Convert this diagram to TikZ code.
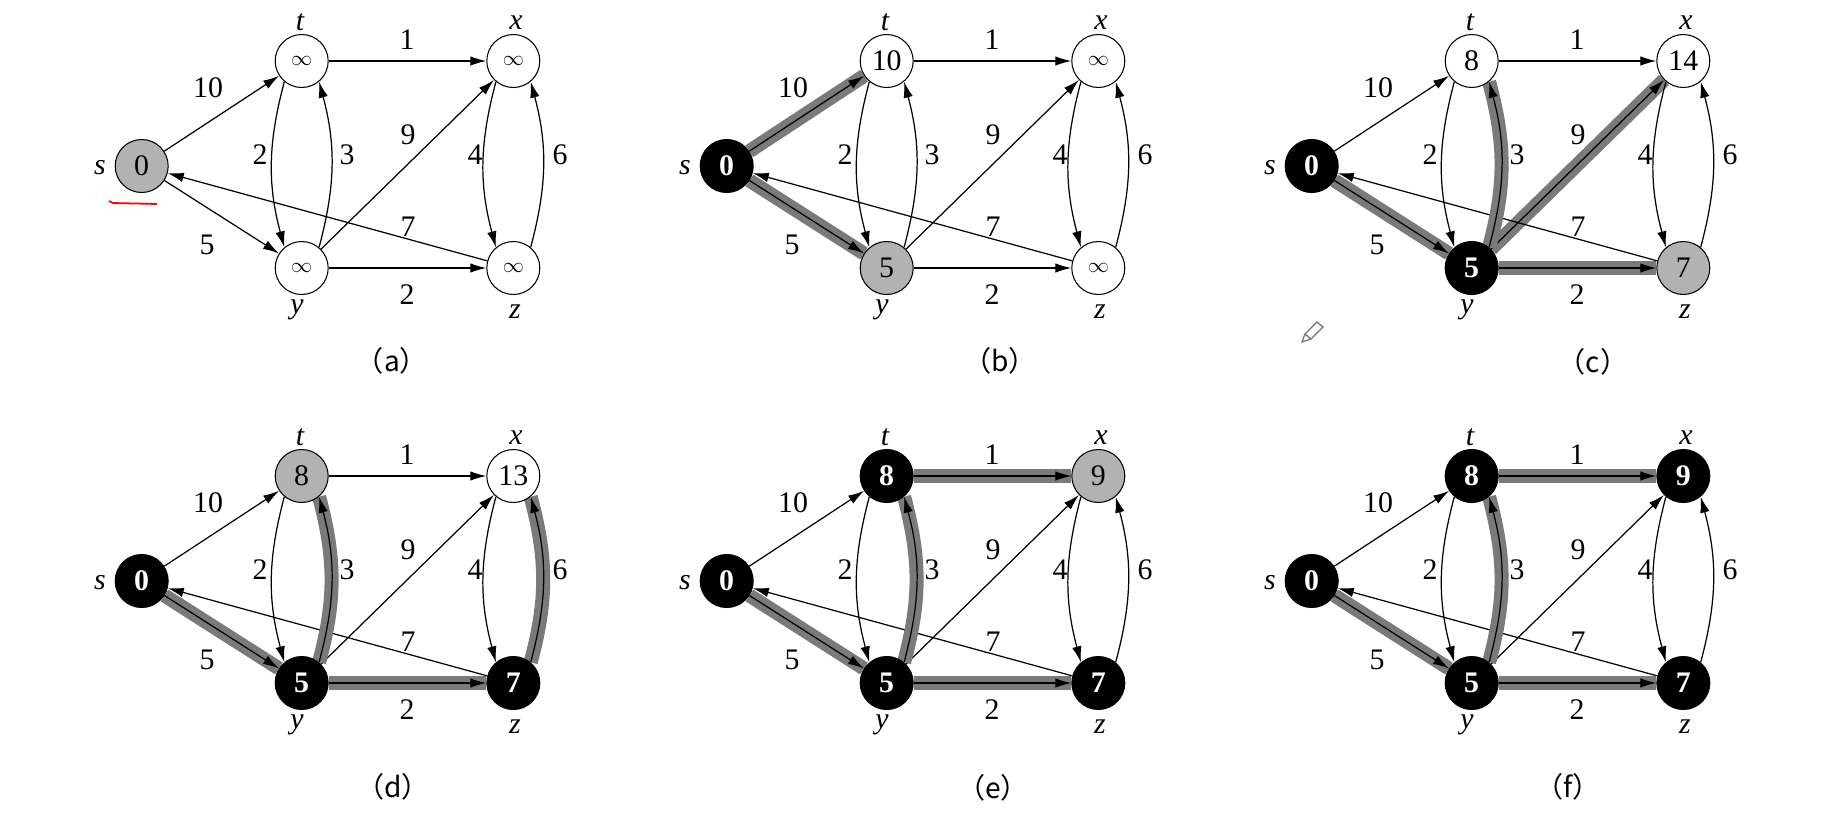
\documentclass[tikz,border=0pt]{standalone}
\usepackage{fontspec}
\setmainfont{Liberation Serif}
\newfontfamily\cjk{Noto Sans CJK SC}
\usetikzlibrary{arrows.meta,backgrounds}
\tikzset{
  x=0.02cm, y=0.02cm,
  vtx/.style={circle, draw=black, line width=0.6pt, minimum size=1.06cm, inner sep=0pt, font=\fontsize{17}{17}\selectfont},
  wht/.style={fill=white},
  gry/.style={fill=black!30},
  blk/.style={fill=black, text=white, font=\fontsize{17}{17}\selectfont\bfseries},
  lbl/.style={font=\fontsize{17}{17}\selectfont\itshape, inner sep=0pt},
  wlbl/.style={font=\fontsize{17}{17}\selectfont, inner sep=0pt},
  captxt/.style={font=\fontsize{16}{16}\selectfont, inner sep=0pt},
  arc/.style={line width=0.7pt, -{Latex[length=3.2mm,width=1.9mm]}},
  hot/.style={preaction={draw, line width=8pt, black!52, -}},
  nS/.style=wht, nT/.style=wht, nX/.style=wht, nY/.style=wht, nZ/.style=wht,
  eST/.style={}, eSY/.style={}, eTX/.style={}, eYZ/.style={}, eYX/.style={},
  eZS/.style={}, eTY/.style={}, eYT/.style={}, eXZ/.style={}, eZX/.style={}
}
\newcommand{\infsym}{{\fontsize{12}{12}\selectfont$\infty$}}
\newcommand{\dpanel}[9]{%
  \node[vtx,nS] (#1s) at (141.7,-166) {#2};
  \node[vtx,nT] (#1t) at (301.7,-61) {#3};
  \node[vtx,nX] (#1x) at (513.3,-61) {#4};
  \node[vtx,nY] (#1y) at (301.7,-268) {#5};
  \node[vtx,nZ] (#1z) at (513.3,-268) {#6};
  \node[lbl] (#1ls) at (100,-168) {s};
  \node[lbl] (#1lt) at (300,-22) {t};
  \node[lbl] (#1lx) at (516,-23) {x};
  \node[lbl] (#1ly) at (297,-310) {y};
  \node[lbl] (#1lz) at (515,-312) {z};
  \begin{scope}[on background layer]
    \draw[arc,eST] (#1s) -- (#1t);
    \draw[arc,eSY] (#1s) -- (#1y);
    \draw[arc,eTX] (#1t) -- (#1x);
    \draw[arc,eYZ] (#1y) -- (#1z);
    \draw[arc,eYX] (#1y) -- (#1x);
    \draw[arc,eZS] (#1z) -- (#1s);
    \draw[arc,eTY] (#1t.-130) to[bend right=15] (#1y.130);
    \draw[arc,eYT] (#1y.50) to[bend right=15] (#1t.-50);
    \draw[arc,eXZ] (#1x.-130) to[bend right=15] (#1z.130);
    \draw[arc,eZX] (#1z.50) to[bend right=15] (#1x.-50);
  \end{scope}
  \node[wlbl] (#1w1) at (407,-40) {1};
  \node[wlbl] (#1w10) at (208,-88) {10};
  \node[wlbl] (#1w2a) at (260,-155) {2};
  \node[wlbl] (#1w3) at (347,-155) {3};
  \node[wlbl] (#1w9) at (408,-135) {9};
  \node[wlbl] (#1w4) at (475,-155) {4};
  \node[wlbl] (#1w6) at (560,-155) {6};
  \node[wlbl] (#1w7) at (408,-227) {7};
  \node[wlbl] (#1w5) at (207,-245) {5};
  \node[wlbl] (#1w2b) at (407,-295) {2};
  \node[captxt] (#1cap) at (#8,#9) {\cjk{（}#7\cjk{）}};
}
\begin{document}
\begin{tikzpicture}
  \useasboundingbox (0,0) rectangle (1837,-826);
  \begin{scope}[on background layer]
    \fill[white] (0,0) rectangle (1837,-826);
  \end{scope}
  % (a)
  \begin{scope}[nS/.style=gry]
    \dpanel{a}{0}{\infsym}{\infsym}{\infsym}{\infsym}{a}{392}{-361}
  \end{scope}
  \draw[red, line width=1pt] (109,-201) -- (113,-203) -- (157,-204);
  % (b)
  \begin{scope}[shift={(585,0)}, nS/.style=blk, nY/.style=gry,
      eST/.style=hot, eSY/.style=hot]
    \dpanel{b}{0}{10}{\infsym}{5}{\infsym}{b}{415}{-361}
  \end{scope}
  % (c)
  \begin{scope}[shift={(1170,0)}, nS/.style=blk, nY/.style=blk, nZ/.style=gry,
      eSY/.style=hot, eYT/.style=hot, eYX/.style=hot, eYZ/.style=hot]
    \dpanel{c}{0}{8}{14}{5}{7}{c}{423}{-362}
  \end{scope}
  \draw[black!55, line width=0.7pt] (1302,-342) -- (1305,-334) -- (1317,-322)
    -- (1323,-327) -- (1311,-339) -- cycle (1305,-334) -- (1311,-339);
  % (d)
  \begin{scope}[shift={(0,-415)}, nS/.style=blk, nT/.style=gry, nY/.style=blk, nZ/.style=blk,
      eSY/.style=hot, eYT/.style=hot, eYZ/.style=hot, eZX/.style=hot]
    \dpanel{d}{0}{8}{13}{5}{7}{d}{393}{-372}
  \end{scope}
  % (e)
  \begin{scope}[shift={(585,-415)}, nS/.style=blk, nT/.style=blk, nX/.style=gry, nY/.style=blk, nZ/.style=blk,
      eSY/.style=hot, eYT/.style=hot, eTX/.style=hot, eYZ/.style=hot]
    \dpanel{e}{0}{8}{9}{5}{7}{e}{408}{-373}
  \end{scope}
  % (f)
  \begin{scope}[shift={(1170,-415)}, nS/.style=blk, nT/.style=blk, nX/.style=blk, nY/.style=blk, nZ/.style=blk,
      eSY/.style=hot, eYT/.style=hot, eTX/.style=hot, eYZ/.style=hot]
    \dpanel{f}{0}{8}{9}{5}{7}{f}{398}{-372}
  \end{scope}
\end{tikzpicture}
\end{document}
